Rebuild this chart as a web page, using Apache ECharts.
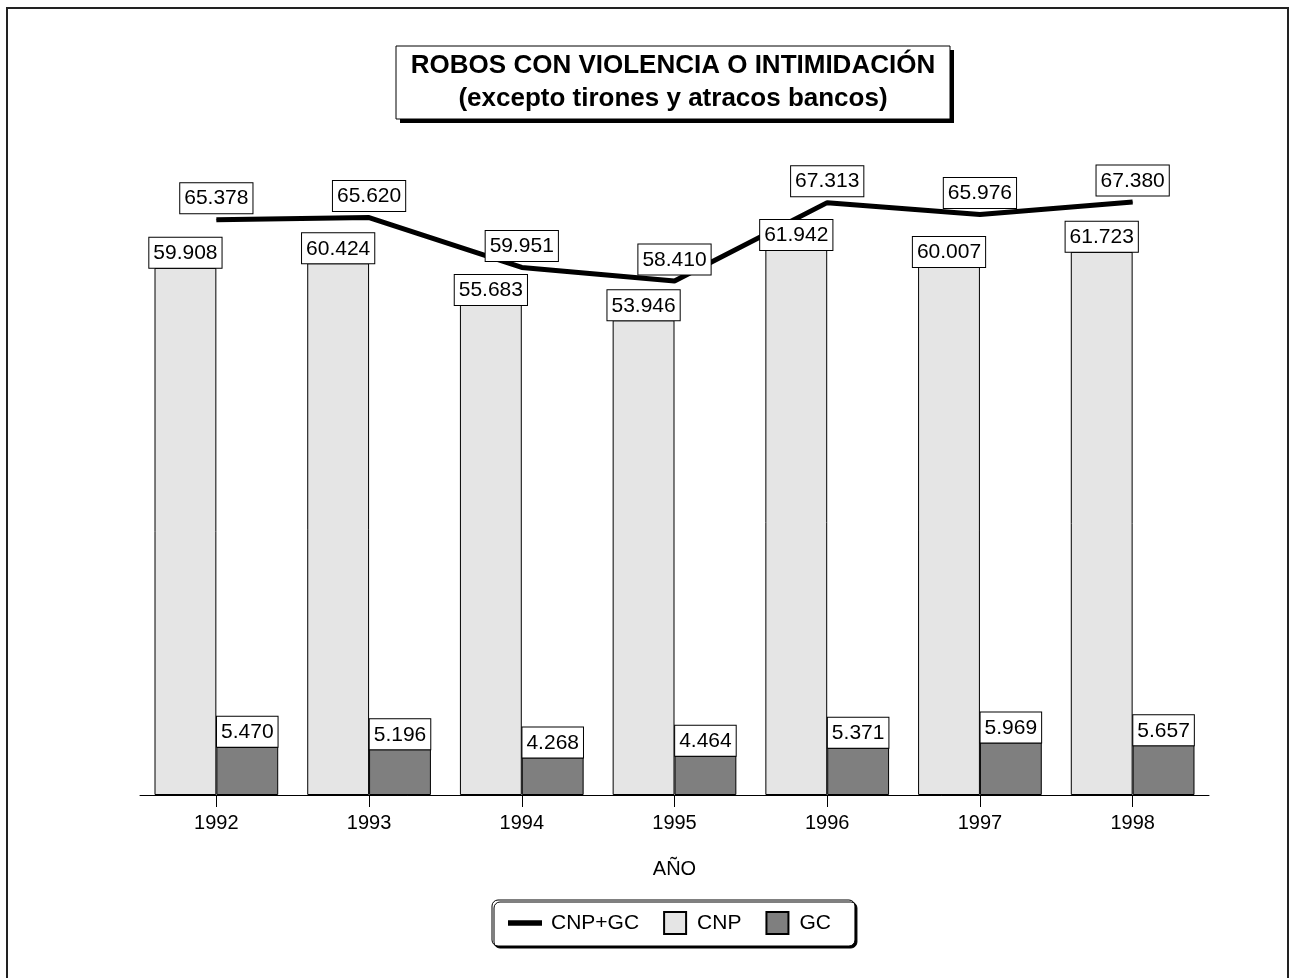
<!DOCTYPE html>
<html>
<head>
<meta charset="utf-8">
<script src="https://cdn.jsdelivr.net/npm/echarts@6/dist/echarts.min.js"></script>
<style>
  html, body { margin: 0; padding: 0; background: #fff; }
  #chart { width: 1289px; height: 978px; }
</style>
</head>
<body>
<div id="chart"></div>
<script>
var years = ['1992', '1993', '1994', '1995', '1996', '1997', '1998']
var totalValues = [65378, 65620, 59951, 58410, 67313, 65976, 67380]
var cnpValues = [59908, 60424, 55683, 53946, 61942, 60007, 61723]
var gcValues = [5470, 5196, 4268, 4464, 5371, 5969, 5657]

var FONT = '"Liberation Sans", Arial, sans-serif'

function fmt(p) {
  return (p.value / 1000).toFixed(3)
}

var boxLabel = {
  show: true,
  position: 'top',
  distance: 0,
  formatter: fmt,
  color: '#000',
  fontFamily: FONT,
  fontSize: 21,
  backgroundColor: '#fff',
  borderColor: '#000',
  borderWidth: 1,
  padding: [5, 4, 4, 4]
}

var chart = echarts.init(document.getElementById('chart'))

chart.setOption({
  animation: false,
  backgroundColor: '#fff',
  textStyle: { fontFamily: FONT },
  legend: {
    left: 492,
    top: 900,
    orient: 'horizontal',
    itemWidth: 34,
    itemHeight: 22,
    itemGap: 24,
    padding: [11, 24, 11, 16],
    backgroundColor: '#fff',
    borderColor: '#000',
    borderWidth: 1,
    borderRadius: 6,
    shadowColor: '#000',
    shadowOffsetX: 2,
    shadowOffsetY: 2,
    shadowBlur: 0,
    textStyle: { fontFamily: FONT, fontSize: 21, color: '#000' },
    data: [
      { name: 'CNP+GC', icon: 'path://M0,0H30V5H0Z', textStyle: { padding: [0, 0, 0, 4] } },
      { name: 'CNP', icon: 'path://M0,0H22V22H0Z' },
      { name: 'GC', icon: 'path://M0,0H22V22H0Z' }
    ]
  },
  grid: {
    left: 140,
    right: 80,
    top: 91,
    bottom: 183
  },
  xAxis: {
    type: 'category',
    data: years,
    name: 'AÑO',
    nameLocation: 'middle',
    nameGap: 64,
    nameTextStyle: { fontFamily: FONT, fontSize: 20, color: '#000' },
    axisLine: { lineStyle: { color: '#000', width: 1 } },
    axisTick: { show: true, alignWithLabel: true, length: 12, lineStyle: { color: '#000' } },
    axisLabel: { fontFamily: FONT, fontSize: 20, color: '#000', margin: 18 }
  },
  yAxis: {
    type: 'value',
    min: 0,
    max: 80000,
    show: false
  },
  graphic: [
    {
      type: 'polyline',
      shape: { points: [[7, 1000], [7, 8], [1288, 8], [1288, 1000]] },
      style: { stroke: '#222', lineWidth: 2, fill: null },
      silent: true
    },
    {
      type: 'rect',
      shape: { x: 400, y: 50, width: 554, height: 73 },
      style: { fill: '#000' },
      silent: true
    },
    {
      type: 'rect',
      shape: { x: 396, y: 46, width: 554, height: 73 },
      style: { fill: '#fff', stroke: '#000', lineWidth: 1 },
      silent: true
    },
    {
      type: 'text',
      x: 673,
      y: 66,
      style: {
        text: 'ROBOS CON VIOLENCIA O INTIMIDACIÓN',
        fontFamily: FONT, fontSize: 26, fontWeight: 'bold', fill: '#000',
        align: 'center', verticalAlign: 'middle'
      },
      silent: true
    },
    {
      type: 'text',
      x: 673,
      y: 99,
      style: {
        text: '(excepto tirones y atracos bancos)',
        fontFamily: FONT, fontSize: 26, fontWeight: 'bold', fill: '#000',
        align: 'center', verticalAlign: 'middle'
      },
      silent: true
    }
  ],
  series: [
    {
      name: 'CNP+GC',
      type: 'line',
      data: totalValues,
      color: '#000',
      symbol: 'circle',
      symbolSize: 1,
      showSymbol: true,
      lineStyle: { color: '#000', width: 5 },
      itemStyle: { color: '#000' },
      label: Object.assign({}, boxLabel, { distance: 6 }),
      labelLayout: { hideOverlap: false },
      z: 1
    },
    {
      name: 'CNP',
      type: 'bar',
      data: cnpValues,
      barGap: '0%',
      barCategoryGap: '19%',
      itemStyle: { color: '#e5e5e5', borderColor: '#000', borderWidth: 1 },
      label: boxLabel,
      z: 2
    },
    {
      name: 'GC',
      type: 'bar',
      data: gcValues,
      itemStyle: { color: '#7f7f7f', borderColor: '#000', borderWidth: 1 },
      label: boxLabel,
      z: 2
    }
  ]
})
</script>
</body>
</html>
